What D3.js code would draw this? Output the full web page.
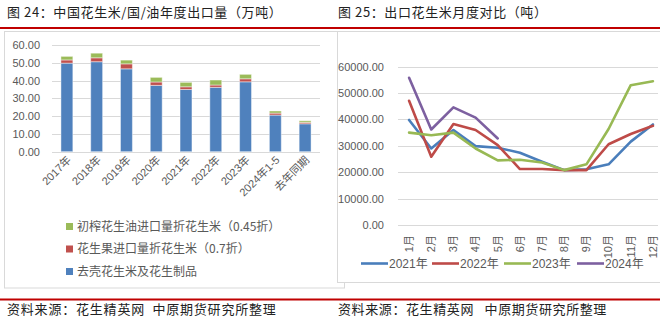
<!DOCTYPE html>
<html><head><meta charset="utf-8">
<script src="https://cdn.jsdelivr.net/npm/d3@7"></script>
<style>
html,body{margin:0;padding:0;background:#fff;}
svg{display:block;}
</style></head>
<body>
<svg id="c" width="660" height="327"></svg>
<script>
// ---- Left chart data (万吨) ----
const barCategories = ["2017年","2018年","2019年","2020年","2021年","2022年","2023年","2024年1-5","去年同期"];
const shelledValues = [49.8, 50.6, 46.6, 37.3, 35.0, 36.2, 39.3, 20.6, 15.7];   // 去壳花生米及花生制品
const inShellValues = [1.8, 2.2, 2.8, 1.9, 1.5, 1.3, 1.7, 1.1, 0.8];         // 花生果进口量折花生米（0.7折）
const oilValues     = [2.0, 2.6, 2.1, 2.6, 2.5, 2.8, 2.5, 1.2, 0.9];         // 初榨花生油进口量折花生米（0.45折）
const barSeriesNames = ["去壳花生米及花生制品","花生果进口量折花生米（0.7折）","初榨花生油进口量折花生米（0.45折）"];
const barTicks = [0,10,20,30,40,50,60];

// ---- Right chart data (吨) ----
const months = ["1月","2月","3月","4月","5月","6月","7月","8月","9月","10月","11月","12月"];
const lineSeriesNames = ["2021年","2022年","2023年","2024年"];
const y2021 = [39800, 29000, 36000, 29900, 29300, 27400, 24000, 20800, 21100, 23000, 31600, 38100];
const y2022 = [47100, 25900, 38300, 36000, 30300, 21200, 21200, 20800, 20800, 30600, 34500, 37600];
const y2023 = [35000, 34000, 35000, 29000, 24500, 24700, 23700, 20800, 23000, 36400, 53000, 54500];
const y2024 = [55800, 36200, 44600, 40700, 32800];
const lineTicks = [0,10000,20000,30000,40000,50000,60000];

const svg = d3.select("#c");
const cjk = "'Noto Sans CJK SC', sans-serif";
const num = "'Liberation Sans', 'Noto Sans CJK SC', sans-serif";
const gray = "#595959";
const barColors = ["#4f81bd","#c0504d","#9bbb59"];
const lineColors = ["#4a7ebb","#be4b48","#98b954","#7d60a0"];

// Titles
svg.append("text").attr("x",7).attr("y",17).attr("font-family",cjk).attr("font-size",13)
  .attr("letter-spacing",0.6).attr("fill","#222").text("图 24：中国花生米/国/油年度出口量（万吨）");
svg.append("text").attr("x",338).attr("y",17).attr("font-family",cjk).attr("font-size",13)
  .attr("letter-spacing",0.6).attr("fill","#222").text("图 25：出口花生米月度对比（吨）");
// Red rules
svg.append("rect").attr("x",0).attr("y",27).attr("width",660).attr("height",2).attr("fill","#c00000");
svg.append("rect").attr("x",0).attr("y",298.5).attr("width",660).attr("height",2).attr("fill","#c00000");
// Footers
svg.append("text").attr("x",7).attr("y",314).attr("font-family",cjk).attr("font-size",13)
  .attr("letter-spacing",0.8).attr("fill","#222").attr("xml:space","preserve").text("资料来源：花生精英网  中原期货研究所整理");
svg.append("text").attr("x",338).attr("y",314).attr("font-family",cjk).attr("font-size",13)
  .attr("letter-spacing",0.6).attr("fill","#222").attr("xml:space","preserve").text("资料来源：花生精英网   中原期货研究所整理");

// Frames
svg.append("rect").attr("x",4.5).attr("y",31.5).attr("width",340).attr("height",256.5)
  .attr("fill","none").attr("stroke","#d9d9d9");
svg.append("rect").attr("x",337.5).attr("y",31.5).attr("width",340).attr("height",251)
  .attr("fill","#fff").attr("stroke","#d9d9d9");

// ---- Left stacked bar chart ----
const gL = svg.append("g");
const xB = d3.scaleBand().domain(barCategories).range([52,320]).paddingInner(0.6).paddingOuter(0.3);
const yB = d3.scaleLinear().domain([0,60]).range([151.7,45]);
gL.append("g").selectAll("line").data(barTicks).join("line")
  .attr("x1",52).attr("x2",320).attr("y1",d=>Math.round(yB(d))+0.5).attr("y2",d=>Math.round(yB(d))+0.5)
  .attr("stroke","#d9d9d9").attr("stroke-width",1);
const yAxisL = d3.axisLeft(yB).tickValues(barTicks).tickFormat(d3.format(".2f")).tickSize(0).tickPadding(0);
const ya = gL.append("g").attr("transform","translate(40,0)").call(yAxisL);
ya.select(".domain").remove();
ya.selectAll("text").attr("font-family",num).attr("font-size",11).attr("fill",gray);

const stackData = barCategories.map((c,i)=>({cat:c, s0:shelledValues[i], s1:inShellValues[i], s2:oilValues[i]}));
const stack = d3.stack().keys(["s0","s1","s2"])(stackData);
gL.append("g").selectAll("g").data(stack).join("g").attr("fill",(d,i)=>barColors[i])
  .selectAll("rect").data(d=>d).join("rect")
  .attr("x",d=>xB(d.data.cat)).attr("width",xB.bandwidth())
  .attr("y",d=>yB(d[1])).attr("height",d=>yB(d[0])-yB(d[1]))
  .attr("stroke","rgba(255,255,255,0.45)").attr("stroke-width",1);

const xAxisL = d3.axisBottom(xB).tickSize(0).tickPadding(0);
const xa = gL.append("g").attr("transform","translate(0,151.7)").call(xAxisL);
xa.select(".domain").remove();
xa.selectAll("text").attr("font-family",num).attr("font-size",11).attr("fill",gray)
  .attr("text-anchor","end").attr("dy",0).attr("y",0)
  .attr("transform","translate(5,9) rotate(-45)");

// Left legend
const legL = gL.append("g");
const legOrder = [2,1,0];
legOrder.forEach((si,k)=>{
  const yy = 226.5 + k*22.5;
  legL.append("rect").attr("x",66).attr("y",yy-3.5).attr("width",7).attr("height",7).attr("fill",barColors[si]);
  legL.append("text").attr("x",77).attr("y",yy+4).attr("font-family",cjk).attr("font-size",12)
    .attr("fill",gray).text(barSeriesNames[si]);
});

// ---- Right line chart ----
const gR = svg.append("g");
const xM = d3.scaleBand().domain(months).range([398,664]);
const yM = d3.scaleLinear().domain([0,60000]).range([225,66.7]);
gR.append("g").selectAll("line").data(lineTicks).join("line")
  .attr("x1",398).attr("x2",658).attr("y1",d=>Math.round(yM(d))+0.5).attr("y2",d=>Math.round(yM(d))+0.5)
  .attr("stroke","#d9d9d9").attr("stroke-width",1);
const yAxisR = d3.axisLeft(yM).tickValues(lineTicks).tickFormat(d3.format(".2f")).tickSize(0).tickPadding(0);
const yr = gR.append("g").attr("transform","translate(384,0)").call(yAxisR);
yr.select(".domain").remove();
yr.selectAll("text").attr("font-family",num).attr("font-size",11).attr("fill",gray);

const xAxisR = d3.axisBottom(xM).tickSize(0).tickPadding(0);
const xr = gR.append("g").attr("transform","translate(0,225)").call(xAxisR);
xr.select(".domain").remove();
xr.selectAll("text").attr("font-family",num).attr("font-size",11).attr("fill",gray)
  .attr("text-anchor","end").attr("dy","0.35em").attr("y",0)
  .attr("transform","translate(0,10) rotate(-90)");

const allLines = [y2021,y2022,y2023,y2024];
const lineGen = d3.line().x((d,i)=>xM(months[i])+xM.bandwidth()/2).y(d=>yM(d));
gR.append("g").selectAll("path").data(allLines).join("path")
  .attr("d",d=>lineGen(d)).attr("fill","none").attr("stroke",(d,i)=>lineColors[i])
  .attr("stroke-width",2.6).attr("stroke-linejoin","round").attr("stroke-linecap","round");

// Right legend
const legX = [361,432,504,577];
lineSeriesNames.forEach((n,i)=>{
  gR.append("line").attr("x1",legX[i]).attr("x2",legX[i]+27).attr("y1",263.5).attr("y2",263.5)
    .attr("stroke",lineColors[i]).attr("stroke-width",2.6);
  gR.append("text").attr("x",legX[i]+28).attr("y",268).attr("font-family",num).attr("font-size",12)
    .attr("fill",gray).text(n);
});
</script>
</body></html>
